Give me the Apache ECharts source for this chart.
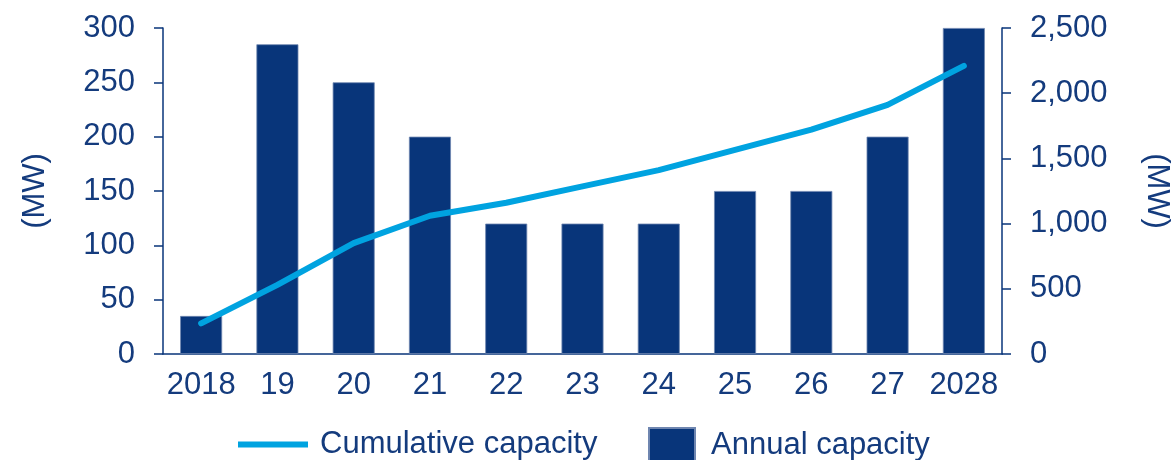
<!DOCTYPE html>
<html>
<head>
<meta charset="utf-8">
<script src="https://cdn.jsdelivr.net/npm/echarts@6/dist/echarts.min.js"></script>
<style>
  html, body { margin: 0; padding: 0; background: #ffffff; }
  #chart { width: 1173px; height: 460px; }
</style>
</head>
<body>
<div id="chart"></div>
<script>
// Years on the category axis
const years = ['2018', '19', '20', '21', '22', '23', '24', '25', '26', '27', '2028'];
// Capacity added each year (MW), left axis
const annualCapacity = [35, 285, 250, 200, 120, 120, 120, 150, 150, 200, 300];
// Running total of installed capacity (MW), right axis
const cumulativeCapacity = [235, 530, 850, 1060, 1160, 1285, 1410, 1565, 1720, 1910, 2210];

const NAVY = '#08357A';
const TEXT = '#143B7D';
const CYAN = '#00A3E0';
const FONT = '"Liberation Sans", Arial, sans-serif';
const FS = 31;

const chart = echarts.init(document.getElementById('chart'), null, { renderer: 'canvas' });

chart.setOption({
  animation: false,
  backgroundColor: '#ffffff',
  textStyle: { fontFamily: FONT, color: TEXT },
  grid: {
    left: 163, right: 171, top: 28, bottom: 106,
    containLabel: false,
    outerBoundsMode: 'none'
  },
  legend: [
    {
      data: ['Cumulative capacity'],
      left: 238,
      top: 429,
      padding: 0,
      icon: 'rect',
      itemWidth: 70,
      itemHeight: 6,
      textStyle: { fontFamily: FONT, fontSize: FS, color: TEXT, padding: [0, 0, 0, 7] }
    },
    {
      data: ['Annual capacity'],
      left: 648,
      top: 427,
      padding: 0,
      icon: 'rect',
      itemWidth: 46,
      itemHeight: 34,
      textStyle: { fontFamily: FONT, fontSize: FS, color: TEXT, padding: [0, 0, 0, 11] }
    }
  ],
  xAxis: {
    type: 'category',
    data: years,
    axisLine: { show: true, lineStyle: { color: NAVY, width: 1.5 } },
    axisTick: { show: false },
    axisLabel: { fontFamily: FONT, fontSize: FS, color: TEXT, margin: 16, interval: 0 }
  },
  yAxis: [
    {
      type: 'value',
      min: 0,
      max: 300,
      interval: 50,
      name: '(MW)',
      nameLocation: 'middle',
      nameGap: 112,
      nameTextStyle: { fontFamily: FONT, fontSize: FS, color: TEXT },
      axisLine: { show: true, lineStyle: { color: NAVY, width: 1.5 } },
      axisTick: { show: true, length: 9, lineStyle: { color: NAVY, width: 1.5 } },
      axisLabel: { fontFamily: FONT, fontSize: FS, color: TEXT, margin: 28, padding: [4, 0, 0, 0] },
      splitLine: { show: false }
    },
    {
      type: 'value',
      min: 0,
      max: 2500,
      interval: 500,
      position: 'right',
      name: '(MW)',
      nameLocation: 'middle',
      nameRotate: -90,
      nameGap: 139,
      nameTextStyle: { fontFamily: FONT, fontSize: FS, color: TEXT },
      axisLine: { show: true, lineStyle: { color: NAVY, width: 1.5 } },
      axisTick: { show: true, length: 9, lineStyle: { color: NAVY, width: 1.5 } },
      axisLabel: {
        fontFamily: FONT, fontSize: FS, color: TEXT, margin: 28, padding: [4, 0, 0, 0],
        formatter: v => v.toLocaleString('en-US')
      },
      splitLine: { show: false }
    }
  ],
  series: [
    {
      name: 'Annual capacity',
      type: 'bar',
      yAxisIndex: 0,
      data: annualCapacity,
      barWidth: 42,
      itemStyle: { color: NAVY, borderColor: '#6f86b0', borderWidth: 0.8 },
      z: 2
    },
    {
      name: 'Cumulative capacity',
      type: 'line',
      yAxisIndex: 1,
      data: cumulativeCapacity,
      showSymbol: false,
      symbol: 'none',
      lineStyle: { color: CYAN, width: 6, cap: 'round', join: 'round' },
      itemStyle: { color: CYAN },
      z: 3
    }
  ]
});
</script>
</body>
</html>
